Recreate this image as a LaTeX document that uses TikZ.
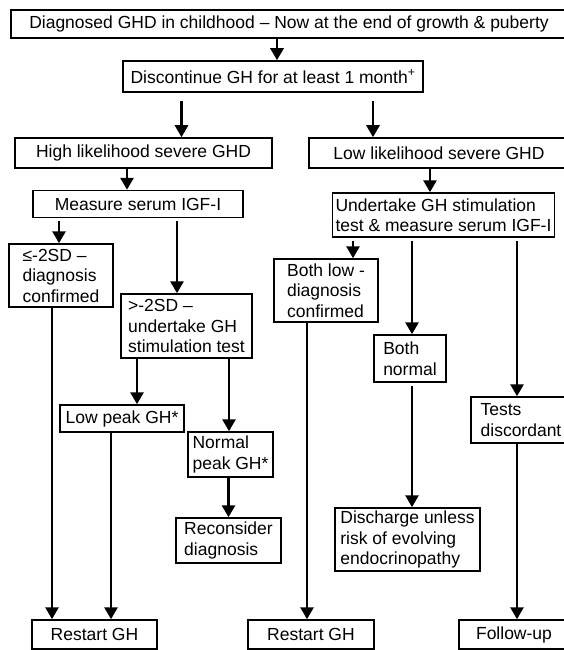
\documentclass[tikz,border=0pt]{standalone}
\usepackage{fontspec}
\setmainfont{Liberation Sans}
\usetikzlibrary{arrows.meta}

\begin{document}
\begin{tikzpicture}[x=1pt, y=-1pt,
    box/.style={draw, line width=1.5pt, inner sep=0pt, align=left,
      font=\fontsize{17.5}{20.5}\selectfont},
    arr/.style={line width=2.8pt, -{Triangle[length=12pt,width=13pt]}}]

    \path[use as bounding box, fill=white] (0,0) rectangle (563,650);

    \node[box, minimum width=556, minimum height=28] (top) at (289,24)
      {Diagnosed GHD in childhood -- Now at the end of growth \& puberty};
    \node[box, minimum width=300, minimum height=31] (disc) at (273,76.5)
      {Discontinue GH for at least 1 month\textsuperscript{+}};

    \node[box, minimum width=257, minimum height=30] (high) at (143.5,153)
      {High likelihood severe GHD};
    \node[box, minimum width=260, minimum height=30] (low) at (439,153)
      {Low likelihood severe GHD};

    \node[box, minimum width=210, minimum height=27] (meas) at (138,204)
      {Measure serum IGF-I};
    \node[box, minimum width=104, minimum height=63] (le2) at (61,275.5)
      {≤-2SD --\\diagnosis\\confirmed};
    \node[box, minimum width=131, minimum height=64] (gt2) at (186.5,326)
      {>-2SD --\\undertake GH\\stimulation test};
    \node[box, minimum width=124, minimum height=27] (lowpk) at (122,418.5)
      {Low peak GH*};
    \node[box, minimum width=85, minimum height=45] (normpk) at (230.5,454.5)
      {Normal\\peak GH*};
    \node[box, minimum width=105, minimum height=45] (recon) at (228.5,540.5)
      {Reconsider\\diagnosis};
    \node[box, minimum width=125, minimum height=29] (rsL) at (94.5,634.5)
      {Restart GH};

    \node[box, minimum width=222, minimum height=44] (under) at (443.5,215)
      {Undertake GH stimulation\\test \& measure serum IGF-I};
    \node[box, minimum width=104, minimum height=63] (bothlow) at (326,290.5)
      {Both low -\\diagnosis\\confirmed};
    \node[box, minimum width=72, minimum height=47] (bothnorm) at (410,358.5)
      {Both\\normal};
    \node[box, minimum width=145, minimum height=63] (disch) at (407.5,539.5)
      {Discharge unless\\risk of evolving\\endocrinopathy};
    \node[box, minimum width=100, minimum height=46] (tests) at (521,420)
      {Tests\\discordant};
    \node[box, minimum width=126, minimum height=29] (rsR) at (311,634.5)
      {Restart GH};
    \node[box, minimum width=110, minimum height=29] (follow) at (514,634.5)
      {Follow-up};

    \draw[arr] ([xshift=4pt]disc.north |- top.south) -- ([xshift=4pt]disc.north);
    \draw[arr, shorten <=8pt] ([xshift=38pt]high.north |- disc.south) -- ([xshift=38pt]high.north);
    \draw[arr, shorten <=8pt] ([xshift=-66pt]low.north |- disc.south) -- ([xshift=-66pt]low.north);

    \draw[arr] ([xshift=-11pt]meas.north |- high.south) -- ([xshift=-11pt]meas.north);
    \draw[arr, shorten <=3pt] ([xshift=-2pt]le2.north |- meas.south) -- ([xshift=-2pt]le2.north);
    \draw[arr, shorten <=3pt] ([xshift=-9.5pt]gt2.north |- meas.south) -- ([xshift=-9.5pt]gt2.north);
    \draw[arr] ([xshift=15pt]lowpk.north |- gt2.south) -- ([xshift=15pt]lowpk.north);
    \draw[arr] ([xshift=-1.5pt]normpk.north |- gt2.south) -- ([xshift=-1.5pt]normpk.north);
    \draw[arr] (normpk.south -| recon.north) -- (recon.north);
    \draw[arr] ([xshift=-42.5pt]rsL.north |- le2.south) -- ([xshift=-42.5pt]rsL.north);
    \draw[arr] ([xshift=16.5pt]rsL.north |- lowpk.south) -- ([xshift=16.5pt]rsL.north);

    \draw[arr] ([xshift=-13.5pt]under.north |- low.south) -- ([xshift=-13.5pt]under.north);
    \draw[arr, shorten <=3pt] ([xshift=27pt]bothlow.north |- under.south) -- ([xshift=27pt]bothlow.north);
    \draw[arr, shorten <=3pt] ([xshift=2pt]bothnorm.north |- under.south) -- ([xshift=2pt]bothnorm.north);
    \draw[arr, shorten <=3pt] ([xshift=-4pt]tests.north |- under.south) -- ([xshift=-4pt]tests.north);
    \draw[arr, shorten <=3pt] ([xshift=4.5pt]disch.north |- bothnorm.south) -- ([xshift=4.5pt]disch.north);
    \draw[arr] ([xshift=-4pt]rsR.north |- bothlow.south) -- ([xshift=-4pt]rsR.north);
    \draw[arr] ([xshift=3pt]follow.north |- tests.south) -- ([xshift=3pt]follow.north);

  \end{tikzpicture}
\end{document}
